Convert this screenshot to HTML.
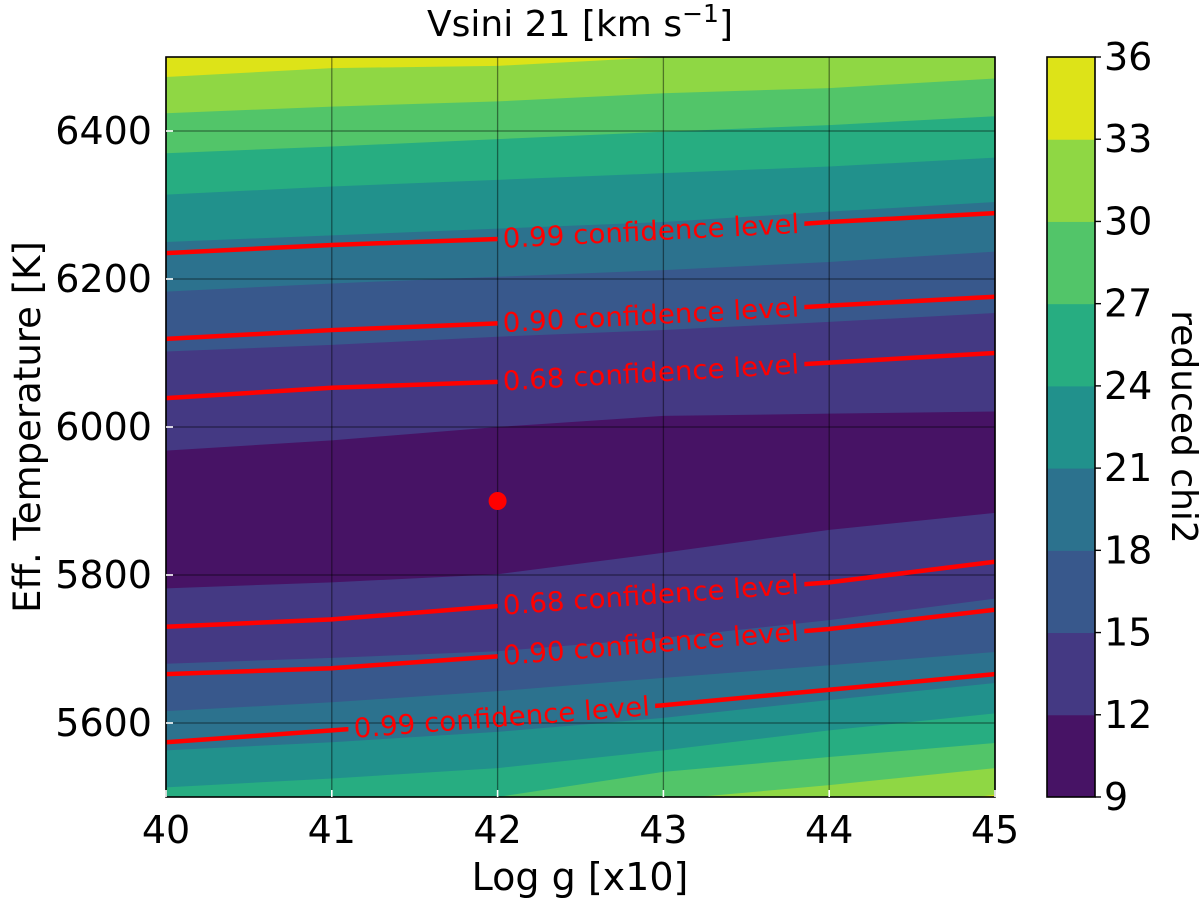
<!DOCTYPE html>
<html><head><meta charset="utf-8"><style>
html,body{margin:0;padding:0;background:#fff}
svg{display:block;font-family:"DejaVu Sans","Liberation Sans",sans-serif}
</style></head><body>
<svg id="chart" width="1200" height="899" viewBox="0 0 1200 899" xmlns="http://www.w3.org/2000/svg">
<defs><clipPath id="plotclip"><rect x="166" y="57" width="829" height="740"/></clipPath></defs>
<g id="bands" clip-path="url(#plotclip)"></g>
<g id="grid"></g>
<g id="conf" clip-path="url(#plotclip)"></g>
<rect x="166" y="57" width="829" height="740" fill="none" stroke="#000" stroke-width="1.6"/>
<g id="axes"></g>
<g id="cbar"></g>
<text x="580" y="36" font-size="36" text-anchor="middle">Vsini 21 [km s<tspan dy="-14" font-size="25">−1</tspan><tspan dy="14">]</tspan></text>
<text x="580" y="890" font-size="38" text-anchor="middle">Log g [x10]</text>
<text transform="translate(40,427) rotate(-90)" font-size="37" text-anchor="middle">Eff. Temperature [K]</text>
<text transform="translate(1172,427) rotate(90)" font-size="36" text-anchor="middle">reduced chi2</text>
</svg>
<script>
const logg = [40, 41, 42, 43, 44, 45];
const xTicks = [40, 41, 42, 43, 44, 45];
const yTicks = [5600, 5800, 6000, 6200, 6400];
const levels = [9, 12, 15, 18, 21, 24, 27, 30, 33, 36];
const bandColors = ["#471365","#443983","#38588c","#2c728e","#21918c","#27ad81","#52c569","#8fd744","#dde318"];
// upper boundaries of contour levels 12..33 (temperature at each logg)
const upper12 = [5968,5982,6000,6015,6018,6021];
const upper15 = [6102,6111,6122,6131,6142,6154];
const upper18 = [6183,6194,6203,6212,6223,6237];
const upper21 = [6250,6259,6268,6277,6291,6304];
const upper24 = [6314,6325,6334,6343,6352,6364];
const upper27 = [6370,6379,6389,6399,6408,6420];
const upper30 = [6424,6433,6440,6451,6458,6471];
const upper33 = [6473,6485,6488,6500,6515,6530];
// lower boundaries
const lower12 = [5782,5790,5801,5830,5861,5884];
const lower15 = [5680,5688,5697,5715,5739,5768];
const lower18 = [5616,5628,5643,5661,5678,5696];
const lower21 = [5563,5574,5588,5607,5631,5654];
const lower24 = [5513,5525,5539,5563,5590,5613];
const lower27 = [5480,5489,5500,5534,5554,5573];
const lower30 = [5442,5455,5469,5496,5516,5539];
const lower33 = [5388,5401,5415,5442,5476,5503];
// confidence level curves
const conf99Upper = [6235,6246,6254,6262,6277,6289];
const conf90Upper = [6119,6131,6140,6151,6164,6176];
const conf68Upper = [6039,6053,6061,6074,6087,6100];
const conf68Lower = [5730,5740,5758,5774,5790,5818];
const conf90Lower = [5666,5674,5690,5708,5727,5753];
const conf99Lower = [5574,5590,5607,5624,5645,5666];
const bestLogg = [42];
const bestTeff = [5900];

const NS = "http://www.w3.org/2000/svg";
const X0=166, X1=995, Y0=797, Y1=57;
const xs = v => X0 + (v-40)/(45-40)*(X1-X0);
const ys = v => Y0 - (v-5500)/(6500-5500)*(Y0-Y1);
const cy = v => 797 - (v-9)/(36-9)*740;
function mk(tag, attrs, parent){const e=document.createElementNS(NS,tag);for(const k in attrs)e.setAttribute(k,attrs[k]);parent.appendChild(e);return e;}

const bands = document.getElementById('bands');
let r = mk('rect',{x:X0,y:Y1,width:X1-X0,height:Y0-Y1,fill:bandColors[0]},bands);


const uppers=[upper12,upper15,upper18,upper21,upper24,upper27,upper30,upper33];
const lowers=[lower12,lower15,lower18,lower21,lower24,lower27,lower30,lower33];
uppers.forEach((arr,i)=>{
  let d = logg.map((g,j)=>(j?'L':'M')+xs(g)+','+ys(arr[j])).join(' ')+` L${X1+5},${ys(arr[arr.length-1])} L${X1+5},0 L${X0-5},0 L${X0-5},${ys(arr[0])} Z`;
  const p = mk('path',{d:d,fill:bandColors[i+1]},bands);
  
  
});
lowers.forEach((arr,i)=>{
  let d = logg.map((g,j)=>(j?'L':'M')+xs(g)+','+ys(arr[j])).join(' ')+` L${X1+5},${ys(arr[arr.length-1])} L${X1+5},899 L${X0-5},899 L${X0-5},${ys(arr[0])} Z`;
  const p = mk('path',{d:d,fill:bandColors[i+1]},bands);
  
  
});

const grid = document.getElementById('grid');
xTicks.forEach(t=>{
  const l=mk('line',{x1:xs(t),x2:xs(t),y1:Y1,y2:Y0,stroke:'#000','stroke-opacity':0.45,'stroke-width':1.3},grid);
  
  
});
yTicks.forEach(t=>{
  const l=mk('line',{x1:X0,x2:X1,y1:ys(t),y2:ys(t),stroke:'#000','stroke-opacity':0.45,'stroke-width':1.3},grid);
  
  
});

const conf = document.getElementById('conf');
const confLines = [
  {v:conf99Upper,lab:'0.99 confidence level',g0:42.0,g1:43.85},
  {v:conf90Upper,lab:'0.90 confidence level',g0:42.0,g1:43.85},
  {v:conf68Upper,lab:'0.68 confidence level',g0:42.0,g1:43.85},
  {v:conf68Lower,lab:'0.68 confidence level',g0:42.0,g1:43.85},
  {v:conf90Lower,lab:'0.90 confidence level',g0:42.0,g1:43.85},
  {v:conf99Lower,lab:'0.99 confidence level',g0:41.1,g1:42.95}
];
const svg=document.getElementById('chart');
const defs=svg.querySelector('defs');
function interp(arr,g){const i=Math.min(4,Math.floor(g-40));const f=g-40-i;return arr[i]+(arr[i+1]-arr[i])*f;}
confLines.forEach((c,k)=>{
  const cp=mk('clipPath',{id:'cg'+k},defs);
  mk('rect',{x:0,y:0,width:xs(c.g0),height:899},cp);
  mk('rect',{x:xs(c.g1),y:0,width:1200,height:899},cp);
  const d=logg.map((g,j)=>(j?'L':'M')+xs(g)+','+ys(c.v[j])).join(' ');
  const p=mk('path',{d:d,fill:'none',stroke:'#ff0000','stroke-width':4.5,'clip-path':`url(#cg${k})`},conf);
  
  
  const ax=xs(c.g0), ay=ys(interp(c.v,c.g0)), bx=xs(c.g1), by=ys(interp(c.v,c.g1));
  const ang=Math.atan2(by-ay,bx-ax)*180/Math.PI;
  const mx=(ax+bx)/2,my=(ay+by)/2;
  const t=mk('text',{transform:`translate(${mx},${my}) rotate(${ang})`,'font-size':27,fill:'#ff0000','text-anchor':'middle',dy:9,textLength:(bx-ax)-10,lengthAdjust:'spacingAndGlyphs'},svg);
  t.textContent=c.lab;
  
  
});
bestLogg.forEach((g,i)=>{
  const c=mk('ellipse',{cx:xs(g),cy:ys(bestTeff[i]),rx:9,ry:9,fill:'#ff0000'},svg);
  
  
});

const axes=document.getElementById('axes');
xTicks.forEach(t=>{
  const l=mk('line',{x1:xs(t),x2:xs(t),y1:Y0,y2:Y0-7,stroke:'#fff','stroke-width':1.6},axes);
  
  
  const tx=mk('text',{x:xs(t),y:843,'font-size':38,'text-anchor':'middle'},axes);
  tx.textContent=t;
  
  
});
yTicks.forEach(t=>{
  const l=mk('line',{x1:X0,x2:X0+7,y1:ys(t),y2:ys(t),stroke:'#fff','stroke-width':1.6},axes);
  
  
  const tx=mk('text',{x:152,y:ys(t)+13,'font-size':38,'text-anchor':'end'},axes);
  tx.textContent=t;
  
  
});

const cbar=document.getElementById('cbar');
bandColors.forEach((col,i)=>{
  const r=mk('rect',{x:1047,y:cy(levels[i+1]),width:48,height:cy(levels[i])-cy(levels[i+1])+0.5,fill:col},cbar);
  
  
});
const fr=mk('rect',{x:1047,y:57,width:48,height:740,fill:'none',stroke:'#000','stroke-width':1.6},cbar);


levels.forEach(v=>{
  mk('line',{x1:1095,x2:1101,y1:cy(v),y2:cy(v),stroke:'#000','stroke-width':1.4},cbar);
  const tx=mk('text',{x:1104,y:cy(v)+13,'font-size':38},cbar);
  tx.textContent=v;
  
  
});
</script>
</body></html>
